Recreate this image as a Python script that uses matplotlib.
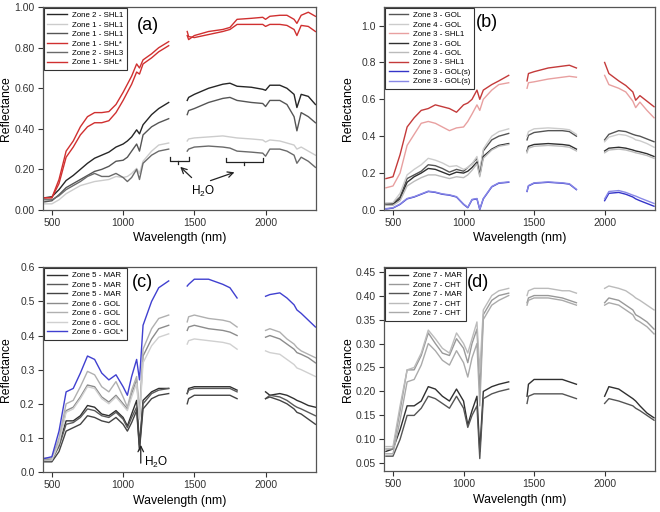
import numpy as np
import matplotlib.pyplot as plt

plt.rcParams['font.family'] = ['Liberation Sans', 'DejaVu Sans']
plt.rcParams['mathtext.default'] = 'regular'

nan = np.nan

# sample wavelengths (nm); nan values mark the water absorption gaps
wavelength = [450, 500, 550, 600, 650, 700, 750, 800, 850, 900,
              950, 1000, 1030, 1060, 1095, 1115, 1140, 1200, 1250, 1320,
              1380, 1450, 1460, 1500, 1600, 1700, 1750, 1800, 1900, 1980,
              2000, 2030, 2100, 2150, 2200, 2220, 2250, 2300, 2350]

# ---- panel (a) ----
a_z2_shl1 = [0.060, 0.065, 0.100, 0.145, 0.170, 0.200, 0.230, 0.255, 0.270, 0.285,
             0.310, 0.325, 0.340, 0.360, 0.395, 0.375, 0.420, 0.470, 0.500, 0.530,
             nan, 0.540, 0.555, 0.570, 0.600, 0.620, 0.625, 0.610, 0.605, 0.595,
             0.590, 0.615, 0.615, 0.600, 0.570, 0.505, 0.570, 0.560, 0.520]
a_z1_shl1_light = [0.030, 0.030, 0.050, 0.080, 0.100, 0.120, 0.130, 0.140, 0.145, 0.150,
                   0.165, 0.160, 0.165, 0.180, 0.205, 0.180, 0.240, 0.290, 0.320, 0.330,
                   nan, 0.340, 0.350, 0.355, 0.360, 0.365, 0.360, 0.355, 0.350, 0.345,
                   0.335, 0.345, 0.340, 0.330, 0.320, 0.300, 0.310, 0.290, 0.270]
a_z1_shl1_gray = [0.040, 0.045, 0.075, 0.110, 0.130, 0.150, 0.170, 0.190, 0.200, 0.215,
                  0.240, 0.245, 0.260, 0.290, 0.325, 0.290, 0.370, 0.410, 0.430, 0.450,
                  nan, 0.470, 0.490, 0.500, 0.530, 0.550, 0.555, 0.540, 0.530, 0.525,
                  0.510, 0.540, 0.540, 0.520, 0.460, 0.390, 0.480, 0.460, 0.430]
a_z1_shl_star1 = [0.060, 0.060, 0.150, 0.290, 0.340, 0.410, 0.460, 0.480, 0.480, 0.485,
                  0.520, 0.580, 0.620, 0.660, 0.720, 0.700, 0.740, 0.770, 0.800, 0.830,
                  nan, 0.860, 0.840, 0.860, 0.880, 0.890, 0.900, 0.940, 0.945, 0.950,
                  0.940, 0.955, 0.960, 0.960, 0.940, 0.920, 0.960, 0.975, 0.955]
a_z2_shl3 = [0.050, 0.050, 0.070, 0.100, 0.120, 0.140, 0.165, 0.180, 0.165, 0.165,
             0.180, 0.160, 0.140, 0.160, 0.200, 0.150, 0.230, 0.270, 0.290, 0.300,
             nan, 0.290, 0.300, 0.310, 0.315, 0.310, 0.305, 0.290, 0.285, 0.280,
             0.265, 0.300, 0.300, 0.290, 0.270, 0.230, 0.260, 0.240, 0.210]
a_z1_shl_star2 = [0.060, 0.060, 0.130, 0.260, 0.310, 0.370, 0.410, 0.430, 0.430, 0.440,
                  0.480, 0.540, 0.580, 0.620, 0.680, 0.670, 0.720, 0.750, 0.780, 0.810,
                  nan, 0.880, 0.855, 0.850, 0.865, 0.880, 0.890, 0.915, 0.915, 0.915,
                  0.905, 0.915, 0.915, 0.910, 0.890, 0.860, 0.910, 0.905, 0.880]
a_series = [a_z2_shl1, a_z1_shl1_light, a_z1_shl1_gray, a_z1_shl_star1, a_z2_shl3, a_z1_shl_star2]
a_labels = ['Zone 2 - SHL1', 'Zone 1 - SHL1', 'Zone 1 - SHL1', 'Zone 1 - SHL*',
            'Zone 2 - SHL3', 'Zone 1 - SHL*']
a_colors = ['#262626', '#cccccc', '#555555', '#d03030', '#6a6a6a', '#d03030']

# ---- panel (b) ----
b_z3_gol1 = [0.035, 0.035, 0.070, 0.170, 0.190, 0.210, 0.245, 0.240, 0.225, 0.205,
             0.220, 0.210, 0.230, 0.250, 0.280, 0.200, 0.320, 0.380, 0.400, 0.415,
             nan, 0.380, 0.405, 0.420, 0.430, 0.430, 0.425, 0.400, nan, nan,
             0.380, 0.410, 0.430, 0.425, 0.410, 0.405, 0.400, 0.385, 0.370]
b_z4_gol1 = [0.035, 0.040, 0.090, 0.190, 0.220, 0.245, 0.280, 0.270, 0.255, 0.235,
             0.240, 0.220, 0.230, 0.250, 0.290, 0.210, 0.330, 0.400, 0.425, 0.440,
             nan, 0.400, 0.425, 0.440, 0.445, 0.440, 0.435, 0.410, nan, nan,
             0.370, 0.395, 0.410, 0.405, 0.390, 0.380, 0.375, 0.360, 0.340]
b_z3_shl1_a = [0.120, 0.130, 0.200, 0.350, 0.410, 0.470, 0.480, 0.470, 0.450, 0.430,
               0.445, 0.450, 0.480, 0.520, 0.570, 0.540, 0.600, 0.650, 0.680, 0.690,
               nan, 0.660, 0.690, 0.695, 0.710, 0.720, 0.725, 0.720, nan, nan,
               0.730, 0.680, 0.660, 0.640, 0.590, 0.555, 0.585, 0.540, 0.500]
b_z3_gol2 = [0.030, 0.030, 0.060, 0.150, 0.180, 0.200, 0.225, 0.220, 0.205, 0.190,
             0.205, 0.200, 0.210, 0.230, 0.260, 0.190, 0.290, 0.330, 0.350, 0.360,
             nan, 0.320, 0.345, 0.355, 0.360, 0.355, 0.350, 0.330, nan, nan,
             0.320, 0.335, 0.340, 0.335, 0.325, 0.320, 0.315, 0.305, 0.290]
b_z4_gol2 = [0.025, 0.025, 0.050, 0.130, 0.155, 0.175, 0.190, 0.190, 0.180, 0.170,
             0.180, 0.175, 0.190, 0.215, 0.250, 0.180, 0.280, 0.325, 0.345, 0.355,
             nan, 0.310, 0.335, 0.345, 0.350, 0.345, 0.340, 0.320, nan, nan,
             0.310, 0.325, 0.330, 0.325, 0.315, 0.310, 0.305, 0.295, 0.280]
b_z3_shl1_b = [0.170, 0.180, 0.300, 0.450, 0.500, 0.540, 0.550, 0.570, 0.560, 0.550,
               0.530, 0.570, 0.580, 0.600, 0.650, 0.600, 0.650, 0.680, 0.700, 0.730,
               nan, 0.700, 0.740, 0.750, 0.770, 0.780, 0.785, 0.770, nan, nan,
               0.800, 0.740, 0.700, 0.675, 0.640, 0.595, 0.620, 0.590, 0.560]
b_z3_gols1 = [0.005, 0.010, 0.030, 0.060, 0.070, 0.085, 0.100, 0.095, 0.085, 0.080,
              0.070, 0.030, 0.012, 0.055, 0.060, 0.002, 0.060, 0.125, 0.145, 0.150,
              nan, 0.100, 0.130, 0.145, 0.150, 0.145, 0.140, 0.110, nan, nan,
              0.050, 0.090, 0.095, 0.085, 0.070, 0.060, 0.050, 0.035, 0.020]
b_z3_gols2 = [0.007, 0.012, 0.032, 0.062, 0.072, 0.087, 0.102, 0.097, 0.087, 0.082,
              0.072, 0.032, 0.014, 0.057, 0.062, 0.004, 0.062, 0.127, 0.147, 0.152,
              nan, 0.102, 0.132, 0.147, 0.152, 0.147, 0.142, 0.112, nan, nan,
              0.060, 0.100, 0.105, 0.095, 0.080, 0.075, 0.065, 0.050, 0.035]
b_series = [b_z3_gol1, b_z4_gol1, b_z3_shl1_a, b_z3_gol2, b_z4_gol2, b_z3_shl1_b,
            b_z3_gols1, b_z3_gols2]
b_labels = ['Zone 3 - GOL', 'Zone 4 - GOL', 'Zone 3 - SHL1', 'Zone 3 - GOL',
            'Zone 4 - GOL', 'Zone 3 - SHL1', 'Zone 3 - GOL(s)', 'Zone 3 - GOL(s)']
b_colors = ['#555555', '#cccccc', '#e8a0a0', '#303030', '#bbbbbb', '#c43a3a',
            '#3434c8', '#8888e6']

# ---- panel (c) ----
c_z5_mar1 = [0.035, 0.040, 0.080, 0.150, 0.150, 0.165, 0.195, 0.190, 0.170, 0.165,
             0.180, 0.160, 0.135, 0.170, 0.210, 0.080, 0.210, 0.235, 0.245, 0.245,
             nan, 0.230, 0.245, 0.250, 0.250, 0.250, 0.250, 0.240, nan, nan,
             0.235, 0.225, 0.230, 0.225, 0.215, 0.210, 0.205, 0.195, 0.190]
c_z5_mar2 = [0.035, 0.035, 0.075, 0.140, 0.145, 0.160, 0.185, 0.180, 0.165, 0.160,
             0.175, 0.155, 0.130, 0.160, 0.190, 0.070, 0.200, 0.230, 0.240, 0.245,
             nan, 0.230, 0.240, 0.245, 0.245, 0.245, 0.245, 0.235, nan, nan,
             0.215, 0.225, 0.220, 0.210, 0.195, 0.190, 0.185, 0.175, 0.165]
c_z5_mar3 = [0.030, 0.030, 0.060, 0.120, 0.130, 0.140, 0.165, 0.160, 0.150, 0.145,
             0.160, 0.140, 0.120, 0.145, 0.180, 0.065, 0.185, 0.215, 0.225, 0.230,
             nan, 0.200, 0.215, 0.225, 0.225, 0.225, 0.225, 0.215, nan, nan,
             0.215, 0.220, 0.210, 0.200, 0.185, 0.175, 0.170, 0.155, 0.140]
c_z6_gol1 = [0.040, 0.040, 0.090, 0.180, 0.190, 0.220, 0.255, 0.250, 0.220, 0.205,
             0.225, 0.200, 0.185, 0.230, 0.270, 0.160, 0.340, 0.390, 0.420, 0.430,
             nan, 0.415, 0.425, 0.430, 0.420, 0.415, 0.410, 0.400, nan, nan,
             0.395, 0.400, 0.390, 0.375, 0.360, 0.350, 0.345, 0.335, 0.320]
c_z6_gol2 = [0.040, 0.040, 0.100, 0.200, 0.210, 0.250, 0.295, 0.285, 0.250, 0.235,
             0.265, 0.220, 0.190, 0.240, 0.280, 0.170, 0.360, 0.420, 0.450, 0.460,
             nan, 0.440, 0.455, 0.460, 0.450, 0.445, 0.440, 0.425, nan, nan,
             0.415, 0.420, 0.410, 0.390, 0.375, 0.365, 0.355, 0.345, 0.335]
c_z6_gol3 = [0.035, 0.035, 0.085, 0.175, 0.185, 0.215, 0.250, 0.245, 0.215, 0.200,
             0.220, 0.195, 0.180, 0.220, 0.260, 0.155, 0.320, 0.370, 0.395, 0.405,
             nan, 0.375, 0.385, 0.390, 0.385, 0.380, 0.375, 0.360, nan, nan,
             0.355, 0.350, 0.345, 0.330, 0.315, 0.305, 0.300, 0.290, 0.280]
c_z6_gol_star = [0.040, 0.045, 0.120, 0.235, 0.245, 0.290, 0.340, 0.330, 0.290, 0.270,
                 0.285, 0.250, 0.225, 0.280, 0.330, 0.270, 0.430, 0.500, 0.540, 0.560,
                 nan, 0.545, 0.550, 0.565, 0.565, 0.550, 0.540, 0.510, nan, nan,
                 0.515, 0.520, 0.525, 0.510, 0.490, 0.475, 0.465, 0.445, 0.425]
c_series = [c_z5_mar1, c_z5_mar2, c_z5_mar3, c_z6_gol1, c_z6_gol2, c_z6_gol3, c_z6_gol_star]
c_labels = ['Zone 5 - MAR', 'Zone 5 - MAR', 'Zone 5 - MAR', 'Zone 6 - GOL',
            'Zone 6 - GOL', 'Zone 6 - GOL', 'Zone 6 - GOL*']
c_colors = ['#303030', '#5a5a5a', '#444444', '#8c8c8c', '#b0b0b0', '#d0d0d0', '#4040d0']

# ---- panel (d) ----
d_z7_mar1 = [0.075, 0.080, 0.120, 0.170, 0.170, 0.180, 0.210, 0.205, 0.190, 0.180,
             0.205, 0.180, 0.130, 0.160, 0.190, 0.075, 0.200, 0.210, 0.215, 0.220,
             nan, 0.190, 0.215, 0.225, 0.225, 0.225, 0.220, 0.215, nan, nan,
             0.190, 0.210, 0.205, 0.195, 0.185, 0.180, 0.170, 0.155, 0.145]
d_z7_cht1 = [0.080, 0.080, 0.160, 0.245, 0.245, 0.275, 0.322, 0.300, 0.280, 0.275,
             0.310, 0.290, 0.260, 0.300, 0.330, 0.200, 0.360, 0.390, 0.400, 0.405,
             nan, 0.385, 0.395, 0.400, 0.400, 0.395, 0.390, 0.385, nan, nan,
             0.385, 0.395, 0.390, 0.380, 0.370, 0.360, 0.355, 0.345, 0.330]
d_z7_mar2 = [0.065, 0.065, 0.100, 0.150, 0.150, 0.165, 0.190, 0.185, 0.175, 0.165,
             0.190, 0.165, 0.125, 0.150, 0.170, 0.060, 0.185, 0.195, 0.200, 0.205,
             nan, 0.175, 0.190, 0.195, 0.195, 0.195, 0.190, 0.185, nan, nan,
             0.175, 0.185, 0.180, 0.175, 0.170, 0.165, 0.160, 0.150, 0.140]
d_z7_cht2 = [0.085, 0.085, 0.170, 0.245, 0.250, 0.280, 0.328, 0.310, 0.290, 0.280,
             0.322, 0.300, 0.280, 0.310, 0.345, 0.240, 0.370, 0.400, 0.410, 0.415,
             nan, 0.400, 0.410, 0.415, 0.415, 0.410, 0.410, 0.405, nan, nan,
             0.415, 0.420, 0.415, 0.410, 0.400, 0.395, 0.390, 0.380, 0.370]
d_z7_cht3 = [0.070, 0.070, 0.140, 0.220, 0.225, 0.255, 0.300, 0.285, 0.265, 0.255,
             0.285, 0.260, 0.230, 0.270, 0.300, 0.170, 0.350, 0.380, 0.390, 0.400,
             nan, 0.380, 0.390, 0.395, 0.395, 0.390, 0.385, 0.380, nan, nan,
             0.380, 0.385, 0.380, 0.370, 0.360, 0.350, 0.345, 0.335, 0.320]
d_series = [d_z7_mar1, d_z7_cht1, d_z7_mar2, d_z7_cht2, d_z7_cht3]
d_labels = ['Zone 7 - MAR', 'Zone 7 - CHT', 'Zone 7 - MAR', 'Zone 7 - CHT', 'Zone 7 - CHT']
d_colors = ['#303030', '#999999', '#555555', '#bbbbbb', '#aaaaaa']


fig = plt.figure(figsize=(6.6, 5.12), dpi=100)
ax_a = fig.add_axes([0.065, 0.590, 0.414, 0.396])
ax_b = fig.add_axes([0.582, 0.590, 0.410, 0.396])
ax_c = fig.add_axes([0.065, 0.078, 0.414, 0.400])
ax_d = fig.add_axes([0.582, 0.080, 0.410, 0.398])


def draw_panel(ax, series, labels, colors, tag, ylim, yticks, yfmt):
    for vals, lab, col in zip(series, labels, colors):
        ax.plot(wavelength, vals, color=col, lw=1.0, label=lab)
    ax.set_xlim(437, 2355)
    ax.set_ylim(*ylim)
    ax.set_xticks([500, 1000, 1500, 2000])
    ax.set_yticks(yticks)
    ax.set_yticklabels([yfmt % t for t in yticks])
    ax.tick_params(direction='out', length=3.5, labelsize=7.5, colors='#333333',
                   pad=2.5, top=False, right=False)
    for sp in ax.spines.values():
        sp.set_color('#555555')
        sp.set_linewidth(0.9)
    ax.set_xlabel('Wavelength (nm)', fontsize=8.8, labelpad=3)
    ax.set_ylabel('Reflectance', fontsize=8.8)
    ax.yaxis.set_label_coords(-0.112, 0.5)
    leg = ax.legend(loc='upper left', fontsize=5.7, handlelength=2.5, handletextpad=0.6,
                    labelspacing=0.24, borderpad=0.45, borderaxespad=0.12,
                    fancybox=False, framealpha=1)
    leg.get_frame().set_edgecolor('#333333')
    leg.get_frame().set_linewidth(0.8)
    ax.text(tag[1], tag[2], tag[0], transform=ax.transAxes, fontsize=13,
            ha='center', va='center')


draw_panel(ax_a, a_series, a_labels, a_colors, ('(a)', 0.385, 0.91),
           (0, 1.0), [0.0, 0.2, 0.4, 0.6, 0.8, 1.0], '%.2f')
draw_panel(ax_b, b_series, b_labels, b_colors, ('(b)', 0.38, 0.925),
           (0, 1.1), [0.0, 0.2, 0.4, 0.6, 0.8, 1.0], '%.1f')
draw_panel(ax_c, c_series, c_labels, c_colors, ('(c)', 0.363, 0.927),
           (0, 0.6), [0.0, 0.1, 0.2, 0.3, 0.4, 0.5, 0.6], '%.1f')
draw_panel(ax_d, d_series, d_labels, d_colors, ('(d)', 0.347, 0.927),
           (0.034, 0.459), [0.05, 0.10, 0.15, 0.20, 0.25, 0.30, 0.35, 0.40, 0.45], '%.2f')

# water band brackets and arrows in (a)
for x0, x1, xm, yb in [(1330, 1460, 1387, 0.243), (1725, 1980, 1852, 0.238)]:
    ax_a.plot([x0, x0, x1, x1], [yb + 0.017, yb, yb, yb + 0.017], color='#222222', lw=0.9)
    ax_a.plot([xm, xm], [yb, yb - 0.016], color='#222222', lw=0.9)
ax_a.annotate('', xy=(1387, 0.222), xytext=(1495, 0.15),
              arrowprops=dict(arrowstyle='->', color='#222222', lw=0.9))
ax_a.annotate('', xy=(1800, 0.19), xytext=(1595, 0.14),
              arrowprops=dict(arrowstyle='->', color='#222222', lw=0.9))
ax_a.text(1560, 0.09, 'H$_2$O', fontsize=8.5, ha='center', va='center')

# water absorption arrow in (c)
ax_c.annotate('', xy=(1124, 0.088), xytext=(1124, 0.018),
              arrowprops=dict(arrowstyle='->', color='#222222', lw=0.9))
ax_c.text(1150, 0.028, 'H$_2$O', fontsize=8.5, ha='left', va='center')

fig.savefig('out.png', dpi=100)
